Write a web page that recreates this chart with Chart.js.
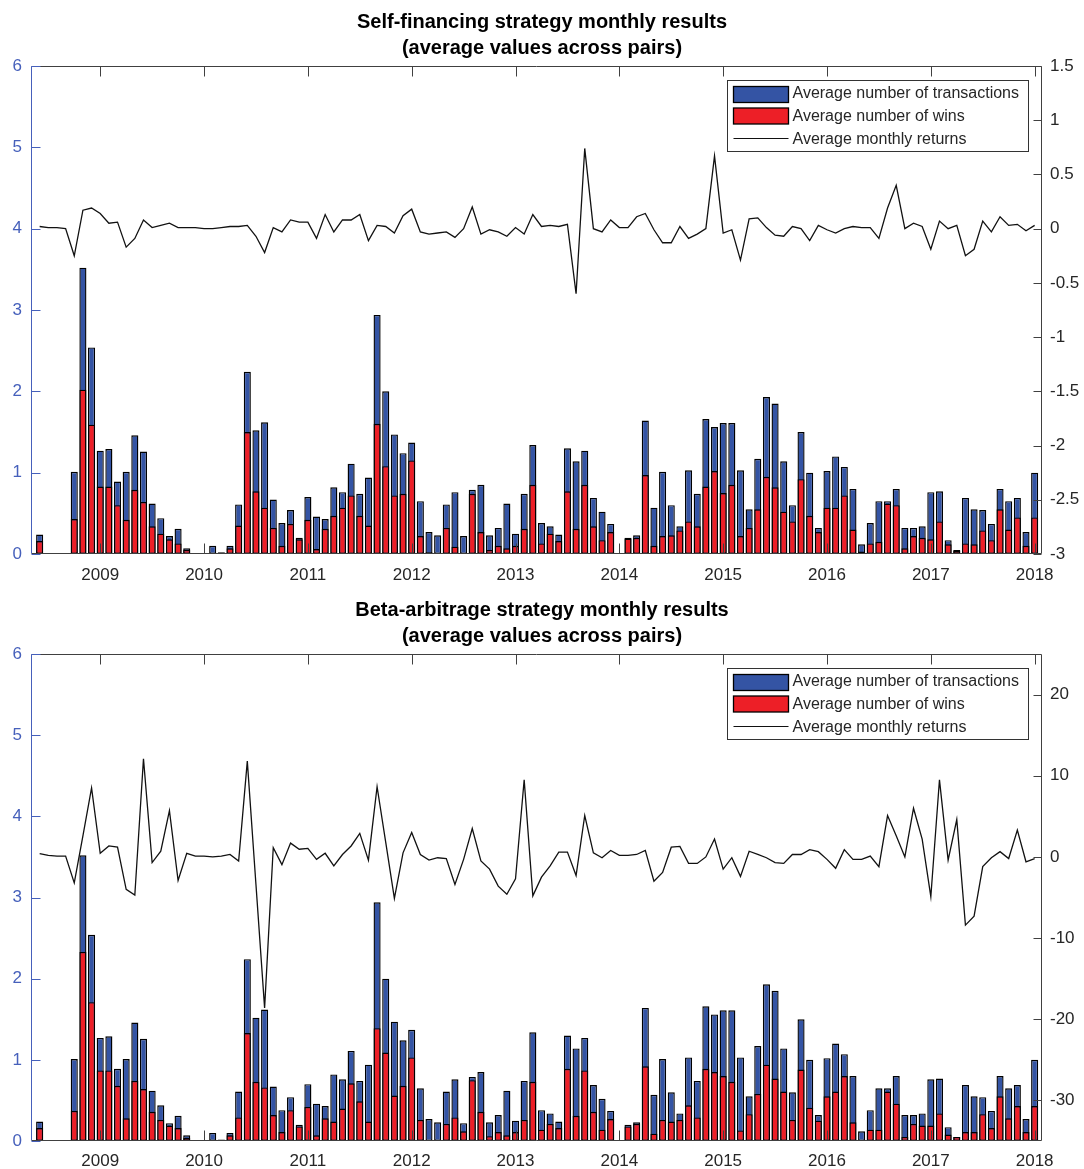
<!DOCTYPE html>
<html>
<head>
<meta charset="utf-8">
<script src="https://cdn.jsdelivr.net/npm/chart.js@4.4.1/dist/chart.umd.min.js"></script>
<style>
html,body{margin:0;padding:0;background:#ffffff;}
body{width:1084px;height:1169px;position:relative;overflow:hidden;}
.box{position:absolute;left:0;width:1084px;}
#b1{top:0;height:590px;}
#b2{top:590px;height:579px;}
canvas{display:block;}
</style>
</head>
<body>
<div class="box" id="b1"><canvas id="c1"></canvas></div>
<div class="box" id="b2"><canvas id="c2"></canvas></div>
<script>
// ---------------- DATA ----------------
// Months: Jun 2008 ... Jan 2018 (116 months)
const months = [];
(function(){ let y = 2008, m = 6; while (!(y === 2018 && m === 2)) { months.push(y + '-' + String(m).padStart(2, '0')); m++; if (m > 12) { m = 1; y++; } } })();

const yearTicks = [2009, 2010, 2011, 2012, 2013, 2014, 2015, 2016, 2017, 2018];
const leftTicks = [0, 1, 2, 3, 4, 5, 6];
const rightTicksSF = [-3, -2.5, -2, -1.5, -1, -0.5, 0, 0.5, 1, 1.5];
const rightTicksBA = [-30, -20, -10, 0, 10, 20];

// Average number of transactions (same in both panels)
const transactions = [
  0.24, 0, 0, 0, 1.01, 3.52, 2.54,
  1.27, 1.29, 0.89, 1.01, 1.46, 1.26, 0.62, 0.44, 0.22, 0.31, 0.07, 0,
  0, 0.10, 0.02, 0.10, 0.61, 2.24, 1.52, 1.62, 0.67, 0.38, 0.54, 0.20,
  0.70, 0.46, 0.43, 0.82, 0.76, 1.11, 0.74, 0.94, 2.94, 2.00, 1.47, 1.24,
  1.37, 0.65, 0.27, 0.23, 0.61, 0.76, 0.22, 0.79, 0.85, 0.23, 0.32, 0.62,
  0.25, 0.74, 1.34, 0.38, 0.34, 0.24, 1.30, 1.14, 1.27, 0.69, 0.52, 0.37,
  0.01, 0.20, 0.23, 1.64, 0.57, 1.01, 0.60, 0.34, 1.03, 0.74, 1.66, 1.56,
  1.61, 1.61, 1.03, 0.55, 1.17, 1.93, 1.85, 1.14, 0.60, 1.50, 1.00, 0.32,
  1.02, 1.20, 1.07, 0.80, 0.12, 0.38, 0.65, 0.65, 0.80, 0.32, 0.32, 0.34,
  0.76, 0.77, 0.17, 0.05, 0.69, 0.55, 0.54, 0.37, 0.80, 0.65, 0.69, 0.27,
  1.00
];

// Self-financing: average number of wins
const winsSF = [
  0.16, 0, 0, 0, 0.43, 2.02, 1.59,
  0.83, 0.83, 0.60, 0.42, 0.79, 0.64, 0.34, 0.25, 0.18, 0.13, 0.05, 0,
  0, 0.01, 0.01, 0.07, 0.35, 1.50, 0.77, 0.57, 0.32, 0.10, 0.37, 0.18,
  0.42, 0.06, 0.31, 0.47, 0.57, 0.72, 0.47, 0.35, 1.60, 1.08, 0.72, 0.74,
  1.15, 0.22, 0.02, 0, 0.32, 0.09, 0, 0.74, 0.27, 0.05, 0.10, 0.07,
  0.10, 0.31, 0.85, 0.13, 0.25, 0.16, 0.77, 0.31, 0.85, 0.34, 0.17, 0.27,
  0, 0.19, 0.20, 0.97, 0.10, 0.22, 0.23, 0.29, 0.40, 0.34, 0.83, 1.02,
  0.75, 0.85, 0.22, 0.32, 0.55, 0.95, 0.82, 0.52, 0.40, 0.92, 0.47, 0.27,
  0.57, 0.57, 0.72, 0.30, 0.03, 0.13, 0.15, 0.62, 0.60, 0.07, 0.22, 0.20,
  0.18, 0.40, 0.12, 0.04, 0.13, 0.12, 0.29, 0.17, 0.55, 0.30, 0.45, 0.10,
  0.45
];

// Self-financing: average monthly returns
const returnsSF = [
  0.02, 0.01, 0.01, 0.00, -0.25, 0.17, 0.19,
  0.14, 0.05, 0.06, -0.17, -0.09, 0.08, 0.01, 0.03, 0.05, 0.01, 0.01, 0.01,
  0.00, 0.00, 0.01, 0.02, 0.02, 0.03, -0.07, -0.22, 0.01, -0.03, 0.08, 0.06,
  0.06, -0.09, 0.13, -0.03, 0.08, 0.08, 0.13, -0.11, 0.03, 0.02, -0.04, 0.12,
  0.18, -0.03, -0.05, -0.04, -0.03, -0.08, 0.00, 0.20, -0.05, -0.01, -0.03, -0.07,
  0.01, -0.05, 0.13, 0.02, 0.03, 0.02, 0.04, -0.60, 0.74, 0.00, -0.03, 0.08,
  0.01, 0.01, 0.11, 0.14, -0.01, -0.13, -0.13, 0.02, -0.09, -0.05, 0.00, 0.67,
  -0.04, -0.01, -0.29, 0.09, 0.10, 0.01, -0.06, -0.07, 0.02, 0.00, -0.11, 0.03,
  -0.01, -0.04, 0.00, 0.02, 0.01, 0.01, -0.09, 0.19, 0.40, 0.00, 0.05, 0.02,
  -0.19, 0.07, 0.00, 0.03, -0.25, -0.19, 0.07, -0.03, 0.11, 0.03, 0.04, -0.02,
  0.03
];

// Beta-arbitrage: average number of wins
const winsBA = [
  0.16, 0, 0, 0, 0.37, 2.33, 1.71,
  0.87, 0.87, 0.68, 0.28, 0.74, 0.64, 0.36, 0.26, 0.19, 0.16, 0.04, 0,
  0, 0.01, 0.01, 0.07, 0.29, 1.33, 0.73, 0.66, 0.32, 0.11, 0.38, 0.18,
  0.42, 0.07, 0.28, 0.24, 0.40, 0.71, 0.49, 0.24, 1.39, 1.09, 0.56, 0.68,
  1.03, 0.26, 0, 0, 0.21, 0.29, 0.12, 0.75, 0.36, 0.06, 0.11, 0.07,
  0.11, 0.26, 0.73, 0.14, 0.21, 0.16, 0.89, 0.31, 0.87, 0.36, 0.14, 0.27,
  0, 0.18, 0.21, 0.92, 0.09, 0.26, 0.24, 0.26, 0.44, 0.29, 0.89, 0.85,
  0.80, 0.73, 0.13, 0.33, 0.58, 0.94, 0.77, 0.61, 0.26, 0.88, 0.41, 0.25,
  0.55, 0.61, 0.80, 0.23, 0.01, 0.14, 0.14, 0.61, 0.46, 0.05, 0.21, 0.19,
  0.19, 0.34, 0.08, 0.05, 0.11, 0.11, 0.33, 0.16, 0.55, 0.28, 0.43, 0.11,
  0.43
];

// Beta-arbitrage: average monthly returns
const returnsBA = [
  0.4, 0.2, 0.1, 0.1, -3.2, 2.6, 8.5,
  0.45, 1.35, 1.2, -4.0, -4.7, 12.1, -0.7, 0.7, 5.7, -2.9, 0.45, 0.1,
  0.1, 0.0, 0.1, 0.3, -0.5, 11.8, -3.4, -18.6, 1.15, -0.95, 1.7, 0.95,
  1.05, -0.3, 0.45, -1.1, 0.3, 1.35, 2.9, -0.4, 8.65, 1.8, -5.1, 0.5,
  3.0, 0.3, -0.4, -0.1, -0.2, -3.4, -0.3, 3.5, -0.5, -1.5, -3.6, -4.6,
  -2.7, 9.5, -4.8, -2.5, -1.1, 0.6, 0.6, -2.3, 5.1, 0.5, -0.1, 0.8,
  0.2, 0.2, 0.3, 0.8, -3.0, -1.9, 1.2, 1.3, -0.8, -0.8, 0.0, 2.2,
  -1.5, -0.1, -2.4, 0.7, 0.3, -0.1, -0.7, -0.8, 0.3, 0.3, 0.9, 0.65,
  -0.3, -1.4, 0.9, -0.3, -0.3, 0.1, -1.2, 5.1, 2.6, 0.0, 6.0, 2.2,
  -4.9, 9.5, -0.4, 4.6, -8.4, -7.3, -1.2, -0.1, 0.65, -0.2, 3.3, -0.6,
  -0.2
];

const titleSF = ['Self-financing strategy monthly results', '(average values across pairs)'];
const titleBA = ['Beta-arbitrage strategy monthly results', '(average values across pairs)'];
const seriesNames = ['Average number of transactions', 'Average number of wins', 'Average monthly returns'];

// ---------------- STYLE ----------------
const FONT = '"Liberation Sans", Arial, Helvetica, sans-serif';
const BLUE = '#3454a4';
const RED = '#ed1f27';
const AXIS_BLUE = '#4660bb';
const TXT = '#262626';
const FRAME = '#404040';

const monthIndex = s => (parseInt(s.slice(0, 4), 10) - 2008) * 12 + parseInt(s.slice(5), 10) - 1;
const pts = arr => months.map((m, i) => ({ x: monthIndex(m), y: arr[i] }));

const framePlugin = {
  id: 'matlabFrame',
  afterDatasetsDraw(chart) {
    const { ctx, chartArea: a, scales } = chart;
    const L = Math.round(a.left) + 0.5, R = Math.round(a.right) - 0.5;
    const T = Math.round(a.top) + 0.5, B = Math.round(a.bottom) - 0.5;
    ctx.save();
    ctx.lineWidth = 1;
    const seg = (x1, y1, x2, y2) => { ctx.beginPath(); ctx.moveTo(x1, y1); ctx.lineTo(x2, y2); ctx.stroke(); };
    ctx.strokeStyle = FRAME;
    scales.x.ticks.forEach(t => {
      const px = Math.round(scales.x.getPixelForValue(t.value)) + 0.5;
      seg(px, T, px, T + 10);
      seg(px, B, px, B - 10);
    });
    scales.yR.ticks.forEach(t => {
      const py = Math.round(scales.yR.getPixelForValue(t.value)) + 0.5;
      seg(R, py, R - 8, py);
    });
    seg(L, T, R, T);
    seg(R, T, R, B);
    seg(L, B, R, B);
    ctx.strokeStyle = AXIS_BLUE;
    scales.yL.ticks.forEach(t => {
      const py = Math.round(scales.yL.getPixelForValue(t.value)) + 0.5;
      seg(L, py, L + 9, py);
    });
    seg(L, T, L, B);
    ctx.restore();
  },
  afterDraw(chart) {
    const { ctx, chartArea: a } = chart;
    const w = 301, h = 71;
    const x0 = Math.round(a.right - 14 - w) + 0.5;
    const y0 = Math.round(a.top + 14) + 0.5;
    ctx.save();
    ctx.fillStyle = '#ffffff';
    ctx.fillRect(x0, y0, w, h);
    ctx.strokeStyle = '#333333';
    ctx.lineWidth = 1;
    ctx.strokeRect(x0, y0, w, h);
    const ds = chart.data.datasets;
    const byLabel = l => ds.find(d => d.label === l);
    const rows = [
      { d: byLabel(seriesNames[0]), kind: 'patch', py: 6, ty: 13.5 },
      { d: byLabel(seriesNames[1]), kind: 'patch', py: 27.5, ty: 36 },
      { d: byLabel(seriesNames[2]), kind: 'line', py: 58, ty: 59 }
    ];
    ctx.font = '16px ' + FONT;
    ctx.textBaseline = 'middle';
    ctx.textAlign = 'left';
    rows.forEach(r => {
      if (r.kind === 'patch') {
        ctx.fillStyle = r.d.backgroundColor;
        ctx.fillRect(x0 + 6, y0 + r.py, 55, 16);
        ctx.strokeStyle = '#000000';
        ctx.lineWidth = 1.3;
        ctx.strokeRect(x0 + 6, y0 + r.py, 55, 16);
        ctx.lineWidth = 1;
      } else {
        ctx.strokeStyle = r.d.borderColor;
        ctx.lineWidth = 1.2;
        ctx.beginPath(); ctx.moveTo(x0 + 6, y0 + r.py); ctx.lineTo(x0 + 61, y0 + r.py); ctx.stroke();
        ctx.lineWidth = 1;
      }
      ctx.fillStyle = TXT;
      ctx.fillText(r.d.label, x0 + 65, y0 + r.ty);
    });
    ctx.restore();
  }
};

function makeChart(id, title, wins, returns, rMin, rMax, rTicks, titlePadTop, xAxisH, xPad) {
  const tickFont = { family: FONT, size: 17 };
  return new Chart(document.getElementById(id), {
    type: 'bar',
    data: {
      datasets: [
        { type: 'line', label: seriesNames[2], data: pts(returns), yAxisID: 'yR', borderColor: '#111111', borderWidth: 1.3, pointRadius: 0, tension: 0, fill: false, order: 0 },
        { type: 'bar', label: seriesNames[1], data: pts(wins), yAxisID: 'yL', backgroundColor: RED, borderColor: '#000000', borderWidth: 1.4, borderSkipped: false, grouped: false, barPercentage: 0.82, categoryPercentage: 1.0, order: 1 },
        { type: 'bar', label: seriesNames[0], data: pts(transactions), yAxisID: 'yL', backgroundColor: BLUE, borderColor: '#000000', borderWidth: 1.4, borderSkipped: false, grouped: false, barPercentage: 0.82, categoryPercentage: 1.0, order: 2 }
      ]
    },
    options: {
      responsive: true,
      maintainAspectRatio: false,
      animation: false,
      devicePixelRatio: 1,
      events: [],
      layout: { padding: 0 },
      plugins: {
        legend: { display: false },
        tooltip: { enabled: false },
        title: {
          display: true,
          text: title,
          color: '#000000',
          font: { family: FONT, size: 20, weight: 'bold', lineHeight: 26 / 20 },
          padding: { top: titlePadTop, bottom: 5 }
        }
      },
      scales: {
        x: {
          type: 'linear',
          min: 4,
          max: 120.85,
          offset: false,
          grid: { display: false, drawTicks: false },
          border: { display: false },
          ticks: {
            color: TXT, font: tickFont, padding: xPad, autoSkip: false, maxRotation: 0,
            callback: v => String(2008 + Math.round(v / 12))
          },
          afterBuildTicks: s => { s.ticks = yearTicks.map(y => ({ value: (y - 2008) * 12 })); },
          afterFit: s => { s.height = xAxisH; }
        },
        yL: {
          position: 'left',
          min: 0,
          max: 6,
          grid: { display: false, drawTicks: false },
          border: { display: false },
          ticks: { color: AXIS_BLUE, font: tickFont, padding: 9, callback: v => String(v) },
          afterBuildTicks: s => { s.ticks = leftTicks.map(v => ({ value: v })); },
          afterFit: s => { s.width = 31; }
        },
        yR: {
          position: 'right',
          min: rMin,
          max: rMax,
          grid: { display: false, drawTicks: false },
          border: { display: false },
          ticks: { color: TXT, font: tickFont, padding: 8, callback: v => String(v) },
          afterBuildTicks: s => { s.ticks = rTicks.map(v => ({ value: v })); },
          afterFit: s => { s.width = 42; }
        }
      }
    },
    plugins: [framePlugin]
  });
}

makeChart('c1', titleSF, winsSF, returnsSF, -3, 1.5, rightTicksSF, 9, 36, 11);
makeChart('c2', titleBA, winsBA, returnsBA, -35, 25, rightTicksBA, 7, 28, 10);
</script>
</body>
</html>
